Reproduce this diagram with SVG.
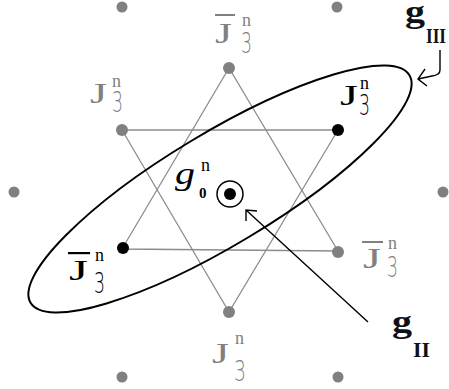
<svg xmlns="http://www.w3.org/2000/svg" width="449" height="389" viewBox="0 0 449 389">
<style>
.gd{fill:#808080}
.kd{fill:#000}
.gt{fill:#808080}
.kt{fill:#000}
.J{font-family:"Liberation Serif",serif;font-size:30px}
.n{font-family:"Liberation Serif",serif;font-size:18px}
.d{font-family:"DejaVu Sans ExtraLight","DejaVu Sans",sans-serif;font-weight:200;font-size:28px}
.star{stroke:#8c8c8c;stroke-width:1.3;fill:none}
.lead{stroke:#000;stroke-width:1.4;fill:none}
.gb{font-family:"Liberation Serif",serif;font-weight:bold;fill:#101018}
</style>
<rect width="449" height="389" fill="#fff"/>
<g id="lattice">
<circle class="gd" cx="122" cy="7" r="5.5"/>
<circle class="gd" cx="337" cy="7" r="5.5"/>
<circle class="gd" cx="14" cy="192" r="5.5"/>
<circle class="gd" cx="443" cy="192" r="5.5"/>
<circle class="gd" cx="122" cy="377" r="5.5"/>
<circle class="gd" cx="338" cy="377" r="5.5"/>
</g>
<g id="connectors">
<polygon class="star" points="229,68 122,249 338,251"/>
<polygon class="star" points="229,312 122,130 338,130"/>
<path class="lead" d="M368,322 L246,210 M257,211 L246,210 L246,221"/>
<path class="lead" d="M440,50 L440,70 Q440,75 432,76 L418,79 M425,69 L418,79 L427,86"/>
</g>
<g id="ellipse-gIII">
<ellipse cx="220" cy="189" rx="221" ry="56" transform="rotate(-31 220 189)" fill="none" stroke="#000" stroke-width="2"/>
</g>
<g id="node-top">
<circle class="gd" cx="229" cy="68" r="6"/>
<rect class="gt" x="215" y="14" width="20" height="2"/>
<text class="J gt" x="215" y="43" textLength="17" lengthAdjust="spacingAndGlyphs">J</text>
<text class="n gt" x="242" y="26">n</text>
<text class="d gt" x="241" y="53" textLength="11" lengthAdjust="spacingAndGlyphs">3</text>
</g>
<g id="node-upper-left">
<circle class="gd" cx="122" cy="130" r="6"/>
<text class="J gt" x="90" y="103" textLength="17" lengthAdjust="spacingAndGlyphs">J</text>
<text class="n gt" x="112" y="87">n</text>
<text class="d gt" x="112" y="112" textLength="11" lengthAdjust="spacingAndGlyphs">3</text>
</g>
<g id="node-upper-right">
<circle class="kd" cx="338" cy="130" r="6"/>
<text class="J kt" x="340" y="105" textLength="18" lengthAdjust="spacingAndGlyphs">J</text>
<text class="n kt" x="360" y="89">n</text>
<text class="d kt" x="359" y="115" textLength="11" lengthAdjust="spacingAndGlyphs">3</text>
</g>
<g id="node-lower-left">
<circle class="kd" cx="123" cy="248" r="6"/>
<rect class="kt" x="68" y="252" width="22" height="2.2"/>
<text class="J kt" x="69" y="280" textLength="19" lengthAdjust="spacingAndGlyphs">J</text>
<text class="n kt" x="95" y="261">n</text>
<text class="d kt" x="94" y="293" textLength="11" lengthAdjust="spacingAndGlyphs">3</text>
</g>
<g id="node-lower-right">
<circle class="gd" cx="338" cy="252" r="6"/>
<rect class="gt" x="362" y="241" width="21" height="2"/>
<text class="J gt" x="363" y="268" textLength="18" lengthAdjust="spacingAndGlyphs">J</text>
<text class="n gt" x="388" y="249">n</text>
<text class="d gt" x="387" y="277" textLength="11" lengthAdjust="spacingAndGlyphs">3</text>
</g>
<g id="node-bottom">
<circle class="gd" cx="229" cy="312" r="6"/>
<text class="J gt" x="212" y="363" textLength="17" lengthAdjust="spacingAndGlyphs">J</text>
<text class="n gt" x="235" y="344">n</text>
<text class="d gt" x="234" y="381" textLength="12" lengthAdjust="spacingAndGlyphs">3</text>
</g>
<g id="node-center">
<circle cx="230" cy="194" r="13" fill="none" stroke="#000" stroke-width="1.5"/>
<circle class="kd" cx="230" cy="194" r="6"/>
<text x="175" y="184" font-family="Liberation Serif, serif" font-style="italic" font-size="31" textLength="20" lengthAdjust="spacingAndGlyphs" fill="#000">g</text>
<text x="199" y="198" font-family="Liberation Serif, serif" font-weight="bold" font-size="15" fill="#000">0</text>
<text class="n kt" x="201" y="171">n</text>
</g>
<g id="label-gIII">
<text class="gb" x="405" y="22" font-size="31" textLength="20" lengthAdjust="spacingAndGlyphs">g</text>
<text class="gb" x="426" y="43" font-size="21" textLength="20" lengthAdjust="spacingAndGlyphs">III</text>
</g>
<g id="label-gII">
<text class="gb" x="392" y="332" font-size="31" textLength="20" lengthAdjust="spacingAndGlyphs">g</text>
<text class="gb" x="413" y="357" font-size="21" textLength="17" lengthAdjust="spacingAndGlyphs">II</text>
</g>
</svg>
